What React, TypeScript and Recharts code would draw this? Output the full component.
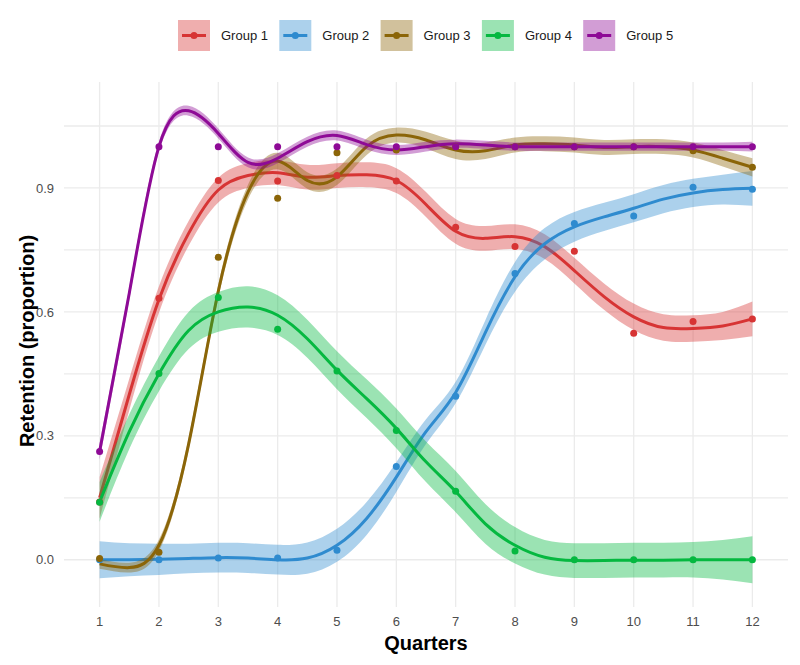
import { ComposedChart, Area, Line, Scatter, XAxis, YAxis, CartesianGrid } from "recharts"

const FONT = "'Liberation Sans', Arial, Helvetica, sans-serif"

// observed quarters and tick labels
const quarters = [1, 2, 3, 4, 5, 6, 7, 8, 9, 10, 11, 12]
const yTicks = [0, 0.3, 0.6, 0.9]
const yGrid = [0, 0.15, 0.3, 0.45, 0.6, 0.75, 0.9, 1.05]

// observed retention per group
const group1Points = [0.14, 0.633, 0.918, 0.917, 0.93, 0.917, 0.805, 0.758, 0.747, 0.548, 0.577, 0.583]
const group2Points = [0.0, 0.0, 0.004, 0.004, 0.023, 0.226, 0.396, 0.693, 0.814, 0.832, 0.902, 0.897]
const group3Points = [0.003, 0.018, 0.732, 0.875, 0.985, 0.992, 1.0, 1.0, 1.0, 1.0, 0.99, 0.95]
const group4Points = [0.139, 0.451, 0.635, 0.558, 0.457, 0.313, 0.166, 0.021, 0.0, 0.0, 0.0, 0.0]
const group5Points = [0.262, 1, 1, 1, 1, 1, 1, 1, 1, 1, 1, 1]

// smoothed fit, every half quarter
const fitQuarters = [1, 1.5, 2, 2.5, 3, 3.5, 4, 4.5, 5, 5.5, 6, 6.5, 7, 7.5, 8, 8.5, 9, 9.5, 10, 10.5, 11, 11.5, 12]
const group1Fit = [0.15, 0.4, 0.63, 0.79, 0.895, 0.93, 0.937, 0.926, 0.93, 0.932, 0.918, 0.86, 0.795, 0.778, 0.782, 0.758, 0.7, 0.637, 0.588, 0.562, 0.56, 0.566, 0.583]
const group2Fit = [0.0, 0.0, 0.001, 0.003, 0.005, 0.004, 0.0, 0.004, 0.035, 0.1, 0.2, 0.31, 0.405, 0.55, 0.685, 0.765, 0.806, 0.83, 0.851, 0.873, 0.888, 0.896, 0.899]
const group3Fit = [-0.01, -0.019, 0.035, 0.28, 0.65, 0.89, 0.965, 0.918, 0.927, 1.0, 1.028, 1.016, 0.992, 0.99, 1.004, 1.007, 1.004, 0.998, 1.0, 1.0, 0.992, 0.972, 0.95]
const group4Fit = [0.14, 0.31, 0.45, 0.555, 0.6, 0.612, 0.592, 0.535, 0.459, 0.39, 0.318, 0.237, 0.165, 0.087, 0.035, 0.006, -0.002, -0.002, -0.001, -0.001, 0.0, 0.0, 0.0]
const group5Fit = [0.262, 0.645, 1.0, 1.087, 1.032, 0.962, 0.972, 1.012, 1.027, 1.005, 0.992, 1.0, 1.007, 1.004, 1.0, 1.0, 1.0, 1.0, 1.0, 1.0, 1.0, 1.0, 1.0]

// half-width of the confidence band
const group1Band = [0.05, 0.038, 0.032, 0.03, 0.03, 0.03, 0.03, 0.03, 0.03, 0.03, 0.03, 0.03, 0.03, 0.03, 0.03, 0.03, 0.031, 0.032, 0.032, 0.032, 0.032, 0.034, 0.042]
const group2Band = [0.045, 0.04, 0.038, 0.036, 0.036, 0.036, 0.036, 0.038, 0.04, 0.04, 0.036, 0.03, 0.026, 0.03, 0.036, 0.038, 0.036, 0.034, 0.034, 0.034, 0.034, 0.036, 0.042]
const group3Band = [0.012, 0.012, 0.014, 0.015, 0.016, 0.018, 0.02, 0.02, 0.02, 0.02, 0.018, 0.02, 0.022, 0.02, 0.018, 0.018, 0.018, 0.018, 0.018, 0.018, 0.018, 0.02, 0.022]
const group4Band = [0.048, 0.042, 0.042, 0.045, 0.048, 0.05, 0.048, 0.046, 0.046, 0.047, 0.048, 0.049, 0.05, 0.048, 0.044, 0.042, 0.042, 0.042, 0.042, 0.042, 0.043, 0.048, 0.057]
const group5Band = [0.02, 0.015, 0.012, 0.012, 0.012, 0.012, 0.012, 0.012, 0.012, 0.012, 0.012, 0.012, 0.01, 0.01, 0.01, 0.01, 0.01, 0.01, 0.01, 0.01, 0.01, 0.01, 0.012]

const groupNames = ["Group 1", "Group 2", "Group 3", "Group 4", "Group 5"]
const groupColors = ["#d73434", "#2f8bcf", "#8b6508", "#05b840", "#8e0a96"]

const groups = [
  { points: group1Points, fit: group1Fit, band: group1Band },
  { points: group2Points, fit: group2Fit, band: group2Band },
  { points: group3Points, fit: group3Fit, band: group3Band },
  { points: group4Points, fit: group4Fit, band: group4Band },
  { points: group5Points, fit: group5Fit, band: group5Band },
].map((g, i) => ({
  name: groupNames[i],
  color: groupColors[i],
  pointData: quarters.map((q, j) => ({ q, v: g.points[j] })),
  fitData: fitQuarters.map((q, j) => ({ q, v: g.fit[j], range: [g.fit[j] - g.band[j], g.fit[j] + g.band[j]] })),
}))

function Legend() {
  return (
    <svg width={800} height={70} style={{ position: "absolute", left: 0, top: 0 }}>
      {groups.map((g, i) => {
        const x = 178 + i * 101.3
        return (
          <g key={g.name}>
            <rect x={x} y={20} width={32} height={31} fill={g.color} fillOpacity={0.4} />
            <line x1={x + 4} x2={x + 28} y1={35.5} y2={35.5} stroke={g.color} strokeWidth={3} />
            <circle cx={x + 16} cy={35.5} r={3.5} fill={g.color} />
            <text x={x + 43} y={40} fontSize={13} fontFamily={FONT} fill="#1a1a1a">
              {g.name}
            </text>
          </g>
        )
      })}
    </svg>
  )
}

export default function App() {
  return (
    <div style={{ position: "absolute", left: 0, top: 0, width: 800, height: 665, background: "#fff" }}>
      <ComposedChart width={800} height={665} margin={{ top: 82, right: 12, bottom: 0, left: 0 }}>
        <CartesianGrid stroke="#ebebeb" strokeWidth={1.3} horizontalValues={yGrid} verticalValues={quarters} />
        <XAxis
          type="number"
          dataKey="q"
          domain={[0.4, 12.6]}
          ticks={quarters}
          allowDataOverflow
          height={58}
          axisLine={false}
          tickLine={false}
          tickMargin={4}
          tick={{ fill: "#4d4d4d", fontSize: 13, fontFamily: FONT }}
        />
        <YAxis
          type="number"
          domain={[-0.1144, 1.1565]}
          ticks={yTicks}
          allowDataOverflow
          width={64}
          axisLine={false}
          tickLine={false}
          tickMargin={4}
          tickFormatter={(v: number) => v.toFixed(1)}
          tick={{ fill: "#4d4d4d", fontSize: 13, fontFamily: FONT }}
        />
        {groups.flatMap((g, i) => [
          <Area
            key={g.name + "-band"}
            data={g.fitData}
            dataKey="range"
            type="natural"
            stroke="none"
            fill={g.color}
            fillOpacity={0.4}
            isAnimationActive={false}
            zIndex={200 + i * 10}
          />,
          <Line
            key={g.name + "-fit"}
            data={g.fitData}
            dataKey="v"
            type="natural"
            stroke={g.color}
            strokeWidth={3}
            dot={false}
            activeDot={false}
            isAnimationActive={false}
            zIndex={205 + i * 10}
          />,
        ])}
        {groups.map((g) => (
          <Scatter
            key={g.name + "-pts"}
            data={g.pointData}
            dataKey="v"
            fill={g.color}
            isAnimationActive={false}
            zIndex={700}
            shape={(p: any) => <circle cx={p.cx} cy={p.cy} r={3.5} fill={g.color} />}
          />
        ))}
      </ComposedChart>
      <Legend />
      <svg width={800} height={665} style={{ position: "absolute", left: 0, top: 0, pointerEvents: "none" }}>
        <text
          x={34}
          y={341}
          transform="rotate(-90 34 341)"
          textAnchor="middle"
          fontSize={20}
          fontWeight="bold"
          fontFamily={FONT}
          fill="#000"
        >
          Retention (proportion)
        </text>
        <text x={426} y={650} textAnchor="middle" fontSize={20} fontWeight="bold" fontFamily={FONT} fill="#000">
          Quarters
        </text>
      </svg>
    </div>
  )
}
